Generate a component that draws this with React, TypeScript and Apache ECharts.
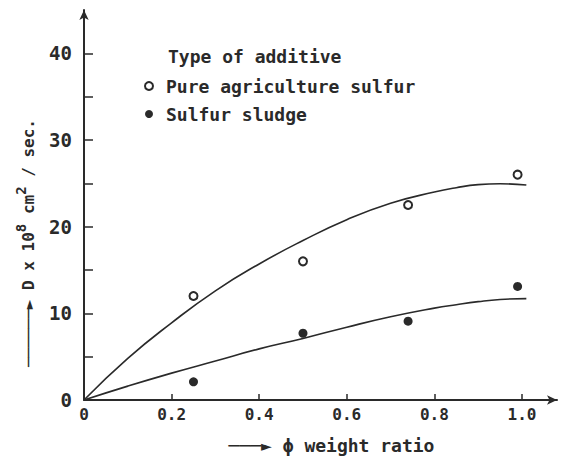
import React, { useEffect, useRef } from "react";
import * as echarts from "echarts";

const xTicks = [0, 0.2, 0.4, 0.6, 0.8, 1.0];
const xTickLabels = ["0", "0.2", "0.4", "0.6", "0.8", "1.0"];
const yTicks = [0, 5, 10, 15, 20, 25, 30, 35, 40];
const yLabelValues = [0, 10, 20, 30, 40];

const pureX = [0.25, 0.5, 0.74, 0.99];
const pureY = [12.0, 16.0, 22.5, 26.0];
const sludgeX = [0.25, 0.5, 0.74, 0.99];
const sludgeY = [2.1, 7.7, 9.1, 13.1];

const fitX = [0, 0.1, 0.2, 0.3, 0.4, 0.5, 0.6, 0.7, 0.8, 0.85, 0.9, 0.95, 1.01];
const pureFit = [0, 4.8, 8.9, 12.6, 15.7, 18.4, 20.8, 22.7, 24.0, 24.5, 24.85, 24.95, 24.8];
const sludgeFit = [0, 1.6, 3.1, 4.5, 5.9, 7.1, 8.4, 9.6, 10.6, 11.0, 11.35, 11.6, 11.7];

const seriesNames = ["Pure agriculture sulfur", "Sulfur sludge"];
const legendTitle = "Type of additive";
const xName = "───► ϕ weight ratio";

const ink = "#2a2a2a";
const font = "DejaVu Sans Mono";

export default function App() {
  const ref = useRef<HTMLDivElement>(null);
  useEffect(() => {
    if (!ref.current) return;
    const chart = echarts.init(ref.current, undefined, { renderer: "svg" });
    const zip = (xs: number[], ys: number[]) => xs.map((x, i) => [x, ys[i]]);
    chart.setOption({
      animation: false,
      backgroundColor: "#ffffff",
      textStyle: { fontFamily: font, color: ink },
      title: {
        text: legendTitle,
        left: 163,
        top: 42,
        textStyle: { fontFamily: font, fontSize: 18, fontWeight: "bold", color: ink },
      },
      legend: {
        data: seriesNames,
        orient: "vertical",
        left: 139,
        top: 72,
        itemWidth: 10,
        itemHeight: 8,
        itemGap: 10,
        textStyle: { fontFamily: font, fontSize: 18, fontWeight: "bold", color: ink, padding: [0, 0, 0, 7] },
      },
      grid: { left: 84, right: 7, top: 10, bottom: 57, containLabel: false },
      xAxis: {
        type: "value",
        min: 0,
        max: 1.08,
        axisLine: { lineStyle: { color: ink, width: 2 }, symbol: ["none", "arrow"], symbolSize: [7, 10] },
        axisTick: { inside: true, length: 6, lineStyle: { color: ink, width: 1.5 }, customValues: xTicks },
        axisLabel: {
          customValues: xTicks,
          formatter: (v: number) => xTickLabels[xTicks.findIndex((t) => Math.abs(t - v) < 1e-6)] ?? "",
          fontFamily: font,
          fontSize: 16,
          fontWeight: "bold",
          color: ink,
          margin: 6,
        },
        splitLine: { show: false },
        name: xName,
        nameLocation: "middle",
        nameGap: 36,
        nameTextStyle: { fontFamily: font, fontSize: 18, fontWeight: "bold", color: ink, padding: [0, 0, 0, 22] },
      },
      yAxis: {
        type: "value",
        min: 0,
        max: 45,
        axisLine: { lineStyle: { color: ink, width: 2 }, symbol: ["none", "arrow"], symbolSize: [7, 10] },
        axisTick: { inside: true, length: 9, lineStyle: { color: ink, width: 1.5 }, customValues: yTicks },
        axisLabel: {
          customValues: yLabelValues,
          fontFamily: font,
          fontSize: 19,
          fontWeight: "bold",
          color: ink,
          margin: 12,
        },
        splitLine: { show: false },
      },
      graphic: [
        {
          type: "text",
          x: 28,
          y: 243,
          rotation: Math.PI / 2,
          style: {
            text: "{a|──────► D x 10}{s|8}{a| cm}{s|2}{a| / sec.}",
            fontFamily: font,
            fontSize: 16,
            fontWeight: "bold",
            fill: ink,
            align: "center",
            verticalAlign: "middle",
            rich: {
              a: { fontFamily: font, fontSize: 16, fontWeight: "bold", fill: ink, lineHeight: 28, verticalAlign: "middle" },
              s: { fontFamily: font, fontSize: 14, fontWeight: "bold", fill: ink, lineHeight: 14, verticalAlign: "top" },
            },
          },
        },
      ],
      series: [
        {
          name: seriesNames[0],
          type: "scatter",
          symbol: "emptyCircle",
          symbolSize: 8,
          itemStyle: { color: ink, borderColor: ink, borderWidth: 1.8, opacity: 1 },
          data: zip(pureX, pureY),
          z: 3,
        },
        {
          name: seriesNames[1],
          type: "scatter",
          symbol: "circle",
          symbolSize: 9,
          itemStyle: { color: ink, opacity: 1 },
          data: zip(sludgeX, sludgeY),
          z: 3,
        },
        {
          type: "line",
          smooth: true,
          showSymbol: false,
          lineStyle: { color: ink, width: 1.6 },
          data: zip(fitX, pureFit),
        },
        {
          type: "line",
          smooth: true,
          showSymbol: false,
          lineStyle: { color: ink, width: 1.6 },
          data: zip(fitX, sludgeFit),
        },
      ],
    });
    return () => chart.dispose();
  }, []);
  return <div ref={ref} style={{ width: 564, height: 459, position: "absolute", left: 0, top: 0 }} />;
}
